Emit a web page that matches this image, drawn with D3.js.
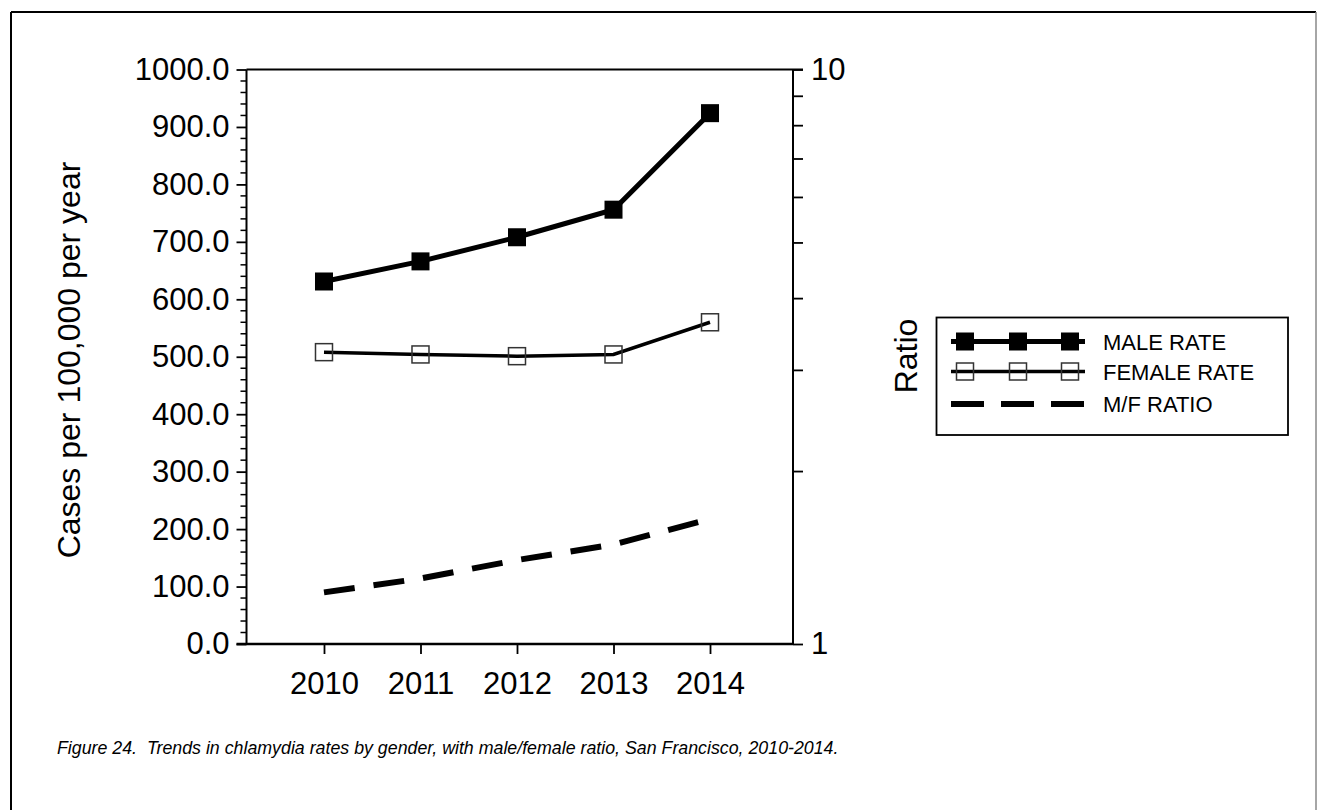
<!DOCTYPE html>
<html><head><meta charset="utf-8">
<script src="https://cdn.jsdelivr.net/npm/d3@7"></script>
<style>body{margin:0;background:#fff;} svg{display:block;font-family:Arial,"Liberation Sans",sans-serif;}</style>
</head><body>
<svg id="c" width="1317" height="810"></svg>
<script>
const years = [2010, 2011, 2012, 2013, 2014];
const maleRate = [631, 666, 708, 756, 924];
const femaleRate = [508, 504, 501, 504, 560];
const mfRatio = [1.23, 1.30, 1.40, 1.49, 1.65];
const leftTicks = [0,100,200,300,400,500,600,700,800,900,1000];
const rightTicks = [1,2,3,4,5,6,7,8,9,10];
const legendLabels = ["MALE RATE","FEMALE RATE","M/F RATIO"];
const caption = "Figure 24.  Trends in chlamydia rates by gender, with male/female ratio, San Francisco, 2010-2014.";

const svg = d3.select("#c");
const L = 246.5, R = 793, T = 69.5, B = 644;
const x = d3.scaleLinear().domain([2009.197, 2014.86]).range([L, R]);
const y = d3.scaleLinear().domain([0, 1000]).range([B, T]);
const yr = d3.scaleLog().domain([1, 10]).range([B, T]);

// outer frame
svg.append("line").attr("x1",11).attr("x2",1316).attr("y1",12).attr("y2",12).attr("stroke","#000").attr("stroke-width",2);
svg.append("line").attr("x1",11).attr("x2",11).attr("y1",12).attr("y2",812).attr("stroke","#000").attr("stroke-width",2);
svg.append("line").attr("x1",1316).attr("x2",1316).attr("y1",12).attr("y2",812).attr("stroke","#888").attr("stroke-width",1.5);

// plot frame top
svg.append("line").attr("x1",L).attr("x2",R+10).attr("y1",T).attr("y2",T).attr("stroke","#000").attr("stroke-width",2);

// left axis
const gl = svg.append("g").attr("transform",`translate(${L},0)`)
  .call(d3.axisLeft(y).tickValues(leftTicks).tickSize(10).tickPadding(7).tickFormat(d3.format(".1f")));
gl.append("g").selectAll("line").data(d3.range(0,1001,20).filter(v=>v%100!==0)).join("line")
  .attr("x1",-6).attr("x2",0).attr("y1",d=>y(d)).attr("y2",d=>y(d)).attr("stroke","#000").attr("stroke-width",1.5);

// right axis
const gr = svg.append("g").attr("transform",`translate(${R},0)`)
  .call(d3.axisRight(yr).tickValues(rightTicks).tickSize(10).tickPadding(8).tickFormat(d=> (d===1||d===10)? String(d):""));

// bottom axis
const gb = svg.append("g").attr("transform",`translate(0,${B})`)
  .call(d3.axisBottom(x).tickValues(years).tickSize(10).tickPadding(18).tickFormat(d3.format("d")));
svg.append("line").attr("x1",L-10).attr("x2",R).attr("y1",B).attr("y2",B).attr("stroke","#000").attr("stroke-width",2.5);

[gl,gr,gb].forEach(g=>{
  g.select(".domain").attr("stroke","#000").attr("stroke-width",2);
  g.selectAll(".tick line").attr("stroke","#000").attr("stroke-width",1.8);
  g.selectAll("text").attr("font-size",31).attr("fill","#000").attr("font-family","Arial, 'Liberation Sans', sans-serif");
});
gl.select(".domain").attr("d",`M0,${T}V${B}`);
gr.select(".domain").attr("d",`M0,${T}V${B}`);
gb.select(".domain").attr("d",`M${L},0H${R}`);
gb.selectAll("text").attr("dy","0.71em");

// axis titles
svg.append("text").attr("transform","translate(80,360) rotate(-90)").attr("text-anchor","middle")
  .attr("font-size",32).text("Cases per 100,000 per year");
svg.append("text").attr("transform","translate(917,356) rotate(-90)").attr("text-anchor","middle")
  .attr("font-size",32).text("Ratio");

// series
const lineL = d3.line().x((d,i)=>x(years[i])).y(d=>y(d));
const lineR = d3.line().x((d,i)=>x(years[i])).y(d=>yr(d));

svg.append("path").datum(mfRatio).attr("d",lineR).attr("fill","none").attr("stroke","#000")
  .attr("stroke-width",6).attr("stroke-dasharray","31,19");

svg.append("path").datum(femaleRate).attr("d",lineL).attr("fill","none").attr("stroke","#000").attr("stroke-width",3.5);
svg.append("g").selectAll("rect").data(femaleRate).join("rect")
  .attr("x",(d,i)=>x(years[i])-8.5).attr("y",d=>y(d)-8.5).attr("width",17).attr("height",17)
  .attr("fill","none").attr("stroke","#333").attr("stroke-width",1.5);

svg.append("path").datum(maleRate).attr("d",lineL).attr("fill","none").attr("stroke","#000").attr("stroke-width",5);
svg.append("g").selectAll("rect").data(maleRate).join("rect")
  .attr("x",(d,i)=>x(years[i])-9).attr("y",d=>y(d)-9).attr("width",18).attr("height",18).attr("fill","#000");

// legend
const lg = svg.append("g");
lg.append("rect").attr("x",936.5).attr("y",317.5).attr("width",351.5).attr("height",117.5)
  .attr("fill","none").attr("stroke","#000").attr("stroke-width",1.8);
const ly = [341.5, 371.5, 404];
const lx0 = 951, lx1 = 1085, mk = [965, 1018, 1070];
lg.append("line").attr("x1",lx0).attr("x2",lx1).attr("y1",ly[0]).attr("y2",ly[0]).attr("stroke","#000").attr("stroke-width",5);
lg.selectAll("rect.m").data(mk).join("rect").attr("class","m").attr("x",d=>d-9).attr("y",ly[0]-9).attr("width",18).attr("height",18).attr("fill","#000");
lg.append("line").attr("x1",lx0).attr("x2",lx1).attr("y1",ly[1]).attr("y2",ly[1]).attr("stroke","#000").attr("stroke-width",3.5);
lg.selectAll("rect.f").data(mk).join("rect").attr("class","f").attr("x",d=>d-8.5).attr("y",ly[1]-8.5).attr("width",17).attr("height",17).attr("fill","none").attr("stroke","#333").attr("stroke-width",1.5);
lg.append("line").attr("x1",lx0).attr("x2",lx1+1).attr("y1",ly[2]).attr("y2",ly[2]).attr("stroke","#000").attr("stroke-width",6).attr("stroke-dasharray","33,17");
lg.selectAll("text").data(legendLabels).join("text").attr("x",1103).attr("y",(d,i)=>ly[i]+8)
  .attr("font-size",22).attr("fill","#000").text(d=>d);

// caption
svg.append("text").attr("x",57).attr("y",754).attr("font-size",17.8).attr("font-style","italic").attr("fill","#000")
  .attr("xml:space","preserve").style("white-space","pre").text(caption);
</script>
</body></html>
